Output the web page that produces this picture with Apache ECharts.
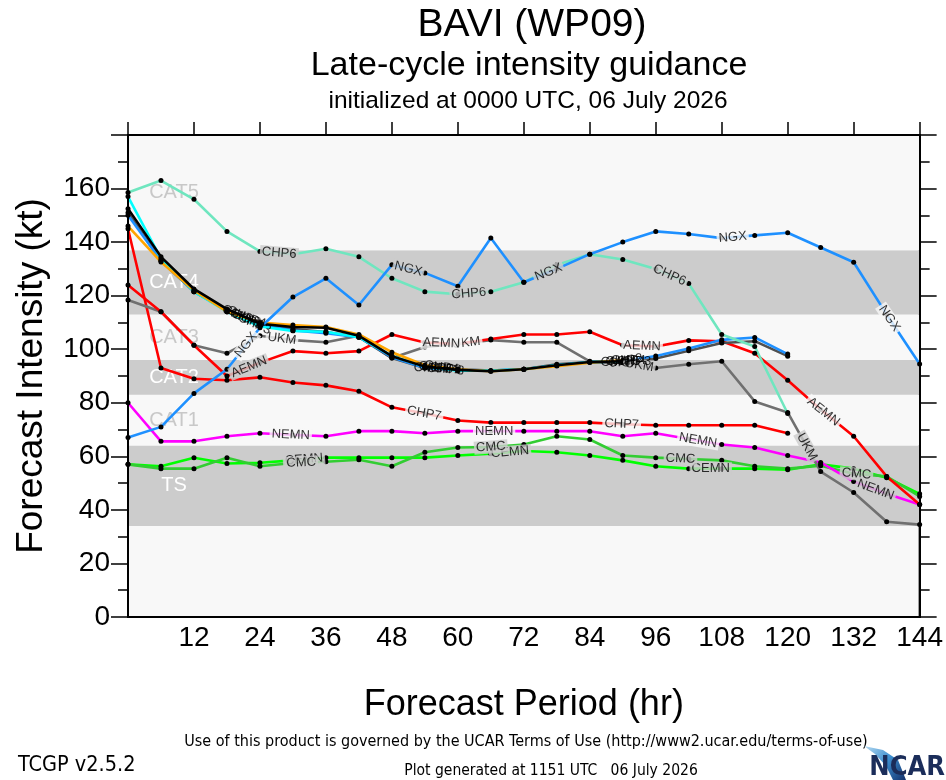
<!DOCTYPE html>
<html>
<head>
<meta charset="utf-8">
<title>BAVI (WP09) Late-cycle intensity guidance</title>
<script src="https://cdn.jsdelivr.net/npm/echarts@6/dist/echarts.min.js"></script>
<style>
    html, body { margin: 0; padding: 0; background: #fff; }
    #intensity_chart { width: 946px; height: 780px; }
</style>
</head>
<body>
<div id="intensity_chart"></div>
<script>
// forecast hours
var hours = [0, 6, 12, 18, 24, 30, 36, 42, 48, 54, 60, 66, 72, 78, 84, 90, 96, 102, 108, 114, 120, 126, 132, 138, 144];

// intensity (kt) per model
var ngx  = [67, 71, 83.5, 92.5, 108, 119.5, 126.5, 116.5, 131.5, 128.5, 123.5, 141.5, 125, 130, 135.5, 140, 144, 143, 141.5, 142.5, 143.5, 138, 132.5, 113, 94.5];
var chp6 = [158.5, 163, 156, 144, 136.5, 135.5, 137.5, 134.5, 126.5, 121.5, 120.5, 121.5, 125, 131.5, 135.5, 133.5, 130, 124.5, 105.5, 101, 76, null, null, null, null];
var aemn = [124, 114, 101.5, 90, 95, 99.3, 98.5, 99.3, 105.5, 102.5, 102, 103.8, 105.5, 105.5, 106.5, 101.5, 101, 103.3, 103, 98.5, 88.4, 77.5, 67.5, 52.5, 42];
var chp7 = [145, 93, 89, 88.4, 89.5, 87.6, 86.5, 84.3, 78.3, 76, 73.4, 72.6, 72.6, 72.6, 72.6, 72, 71.6, 71.6, 71.6, 71.6, 68.6, null, null, null, null];
var ukm  = [118.4, 114, 101.5, 98.5, 105, 103.4, 102.6, 105, 96.7, 100.8, 102, 103.4, 102.6, 102.6, 95.5, 95, 93, 94.4, 95.5, 80.5, 76.4, 54.3, 46.5, 35.6, 34.5];
var nemn = [80, 65.6, 65.6, 67.5, 68.6, 68, 67.5, 69.4, 69.4, 68.6, 69.4, 69.4, 69.4, 69.4, 69.4, 67.5, 68.6, 66.5, 64.4, 63.3, 60.3, 57.7, 50.6, 46, 42];
var cmc  = [57, 55.4, 55.4, 59.5, 56.3, 57.5, 58, 58.7, 56.3, 61.5, 63.3, 63.5, 64.4, 67.5, 66.3, 60.3, 59.5, 59, 58.5, 56.3, 55.4, 56.5, 53.5, 52.5, 45];
var cemn = [57, 56.3, 59.5, 57.3, 57.6, 58.5, 59.5, 59.5, 59.5, 59.5, 60.3, 61, 62, 61.5, 60.3, 58.5, 56.3, 55.4, 55.4, 55.4, 55, 57, 55.4, 52, 46];
var chp5 = [152.5, 134.5, 122.5, 115, 109.5, 108.3, 108, 105, 97.4, 93.5, 92.3, 91.8, 92.5, 94, 95.2, 95.5, null, null, null, null, null, null, null, null, null];
var chp4 = [146, 132.6, 122, 114, 110, 109, 108.3, 105.5, 98.9, 94, 92.5, 91.8, 92.5, 93.7, 95, 95.9, null, null, null, null, null, null, null, null, null];
var chp3 = [157, 133.8, 121.5, 114, 108.5, 106.8, 106.5, 104.5, 97.5, 93.5, 92, 92, 92.5, 94, 95.2, 95.5, null, null, null, null, null, null, null, null, null];
var cmci = [151, 133, 121.5, 114.5, 109, 107.5, 106.4, 104.5, 96.7, 93, 92.5, 92, 92.5, 94.4, 95.2, 95, 96.5, 99.4, 102.3, 103, 97.4, null, null, null, null];
var chp2 = [150, 133, 121.5, 114.5, 109, 107, 106, 104.5, 97, 93, 92.3, 92, 92.5, 94, 95.2, 95.5, 97.5, 100.3, 103.5, 104.4, 98.2, null, null, null, null];

// Saffir-Simpson bands (kt)
var bandNames = ['TS', 'CAT1', 'CAT2', 'CAT3', 'CAT4', 'CAT5'];
var bandEdges = [34, 64, 83, 96, 113, 137, 180];

var yTicks = [0, 20, 40, 60, 80, 100, 120, 140, 160];

var FONT = '"Liberation Sans", Helvetica, Arial, sans-serif';
var NARROW = '"Liberation Sans Narrow", "DejaVu Sans Condensed", "Liberation Sans", sans-serif';

var DARK = '#cccccc', LIGHT = '#f8f8f8';

// plot box in pixels, used for label rotation
var GRID = {left: 128, right: 24, top: 135, bottom: 163};
var HR_PX = (946 - GRID.left - GRID.right) / 144;
var KT_PX = (780 - GRID.top - GRID.bottom) / 180;

// drawing order: bottom first; gap = blank the line under its name
var models = [
    {name: 'CEMN', data: cemn, color: '#00ff00', gap: true,  labels: [32, 69.5, 106]},
    {name: 'CMC',  data: cmc,  color: '#32cd32', gap: true,  labels: [31.5, 66, 100.5, 132.5]},
    {name: 'NEMN', data: nemn, color: '#ff00ff', gap: true,  labels: [29.6, 66.6, 103.7, 136]},
    {name: 'CHP7', data: chp7, color: '#ff0000', gap: true,  labels: [53.9, 89.8]},
    {name: 'UKM',  data: ukm,  color: '#707070', gap: true,  labels: [28, 61.5, 93, 123.5]},
    {name: 'AEMN', data: aemn, color: '#ff0000', gap: true,  labels: [22, 57, 93.5, 126.5]},
    {name: 'CMCI', data: cmci, color: '#505050', gap: false, labels: [20, 55, 89]},
    {name: 'CHP2', data: chp2, color: '#1e90ff', gap: false, labels: [21.5, 57.5, 90.5]},
    {name: 'CHP3', data: chp3, color: '#00ffff', gap: false, labels: [23, 58, 92]},
    {name: 'CHP4', data: chp4, color: '#ffa500', gap: false, labels: [22, 57, 91]},
    {name: 'CHP5', data: chp5, color: '#000000', gap: false, labels: [21, 56, 90]},
    {name: 'CHP6', data: chp6, color: '#6fe6bf', gap: true,  labels: [27.5, 62, 98.5]},
    {name: 'NGX',  data: ngx,  color: '#1e90ff', gap: true,  labels: [21.5, 51, 76.5, 110, 138.5]}
];

function pairs(data) {
    return hours.map(function(h, i){ return [h, data[i]]; });
}

function bandColour(v) {
    for (var i = 0; i < bandNames.length; i++) {
        if (v >= bandEdges[i] && v < bandEdges[i + 1]) {
            return (i % 2 === 0) ? DARK : LIGHT;
        }
    }
    return LIGHT;
}

// model name written along its own line, NCL style
function labelPoints(data, hrs, gap) {
    return hrs.map(function(h){
        var i = Math.min(Math.floor(h / 6), hours.length - 2);
        var a = data[i], b = data[i + 1];
        if (b == null) { b = a; }
        var dh = hours[i + 1] - hours[i];
        var v = a + (b - a) * (h - hours[i]) / dh;
        var ang = Math.atan((b - a) / dh * KT_PX / HR_PX) * 180 / Math.PI;
        var lab = {rotate: ang};
        if (gap) {
            lab.backgroundColor = bandColour(v);
            lab.padding = [0, 2];
        }
        return {value: [h, v], label: lab};
    });
}

var bandAreas = bandNames.map(function(name, i){
    var dark = (i % 2 === 0);
    return [{
        name: name,
        yAxis: bandEdges[i],
        itemStyle: {color: dark ? DARK : LIGHT},
        label: {color: dark ? '#ffffff' : '#c8c8c8'}
    }, {
        yAxis: bandEdges[i + 1]
    }];
});

var series = [{
    type: 'line',
    data: [],
    z: 1,
    silent: true,
    markArea: {
        silent: true,
        label: {
            show: true,
            position: [46, '50%'],
            align: 'center',
            verticalAlign: 'middle',
            fontSize: 20,
            fontFamily: FONT
        },
        data: bandAreas
    }
}];

models.forEach(function(m){
    series.push({
        name: m.name,
        type: 'line',
        data: pairs(m.data),
        z: 3,
        symbol: 'circle',
        symbolSize: 5,
        itemStyle: {color: '#000'},
        lineStyle: {color: m.color, width: 2.6},
        connectNulls: false,
        silent: true,
        animation: false
    });
});

models.forEach(function(m){
    series.push({
        name: m.name + ' label',
        type: 'scatter',
        data: labelPoints(m.data, m.labels, m.gap),
        z: 5,
        symbolSize: 1,
        itemStyle: {color: 'transparent'},
        label: {
            show: true,
            position: 'inside',
            formatter: m.name,
            color: '#000',
            fontSize: 13,
            fontFamily: FONT
        },
        silent: true,
        animation: false
    });
});

var chart = echarts.init(document.getElementById('intensity_chart'));

var tickLine = {color: '#000', width: 1.5};
var frameLine = {show: true, onZero: false, lineStyle: {color: '#000', width: 2}};

var option = {
    animation: false,
    backgroundColor: '#ffffff',
    textStyle: {fontFamily: FONT, color: '#000'},
    title: [
        {text: 'BAVI (WP09)', left: 527, top: 1, textAlign: 'center',
         textStyle: {fontSize: 39, fontWeight: 'normal', color: '#000', fontFamily: FONT}},
        {text: 'Late-cycle intensity guidance', left: 524, top: 44, textAlign: 'center',
         textStyle: {fontSize: 34, fontWeight: 'normal', color: '#000', fontFamily: FONT}},
        {text: 'initialized at 0000 UTC, 06 July 2026', left: 523, top: 84, textAlign: 'center',
         textStyle: {fontSize: 24.5, fontWeight: 'normal', color: '#000', fontFamily: FONT}}
    ],
    grid: {
        left: GRID.left, right: GRID.right, top: GRID.top, bottom: GRID.bottom,
        show: true, backgroundColor: LIGHT, borderColor: '#000', borderWidth: 2
    },
    xAxis: [{
        type: 'value', min: 0, max: 144, interval: 12, position: 'bottom', z: 6,
        name: 'Forecast Period (hr)', nameLocation: 'middle', nameGap: 70,
        nameTextStyle: {fontSize: 36, color: '#000', fontFamily: FONT},
        axisLine: frameLine,
        axisTick: {show: false},
        splitLine: {show: false},
        axisLabel: {fontSize: 28, color: '#000', margin: 7, fontFamily: FONT,
                    formatter: function(v){ return v === 0 ? '' : v; }}
    }, {
        type: 'value', min: 0, max: 144, interval: 12, position: 'top', z: 6,
        axisLine: frameLine,
        axisTick: {show: true, inside: false, length: 13, lineStyle: tickLine},
        axisLabel: {show: false},
        splitLine: {show: false}
    }],
    yAxis: [{
        type: 'value', min: 0, max: 180, interval: 20, position: 'left', z: 6,
        name: 'Forecast Intensity (kt)', nameLocation: 'middle', nameGap: 78,
        nameTextStyle: {fontSize: 37, color: '#000', fontFamily: FONT},
        axisLine: frameLine,
        axisTick: {show: true, inside: false, length: 17, lineStyle: tickLine},
        minorTick: {show: true, splitNumber: 2, length: 10, lineStyle: tickLine},
        splitLine: {show: false},
        minorSplitLine: {show: false},
        axisLabel: {fontSize: 28, color: '#000', margin: 18, fontFamily: FONT,
                    formatter: function(v){ return yTicks.indexOf(v) >= 0 ? v : ''; }}
    }, {
        type: 'value', min: 0, max: 180, interval: 20, position: 'right', z: 6,
        axisLine: frameLine,
        axisTick: {show: true, inside: false, length: 17, lineStyle: tickLine},
        minorTick: {show: true, splitNumber: 2, length: 10, lineStyle: tickLine},
        splitLine: {show: false},
        axisLabel: {show: false}
    }],
    graphic: [
        {type: 'text', x: 526, y: 742, silent: true,
         style: {text: 'Use of this product is governed by the UCAR Terms of Use (http://www2.ucar.edu/terms-of-use)',
                 font: '16px ' + NARROW, fill: '#000', textAlign: 'center', textVerticalAlign: 'middle'}},
        {type: 'text', x: 18, y: 765, silent: true,
         style: {text: 'TCGP v2.5.2', font: '21.5px ' + NARROW, fill: '#000',
                 textAlign: 'left', textVerticalAlign: 'middle'}},
        {type: 'text', x: 551, y: 771, silent: true,
         style: {text: 'Plot generated at 1151 UTC   06 July 2026', font: '15.5px ' + NARROW, fill: '#000',
                 textAlign: 'center', textVerticalAlign: 'middle'}},
        {type: 'polygon', silent: true,
         shape: {points: [[864, 746], [883, 750], [898, 760], [906, 780], [893, 780], [886, 766], [875, 754]]},
         style: {fill: new echarts.graphic.LinearGradient(0, 0, 1, 1, [
             {offset: 0, color: '#b8dcf2'}, {offset: 0.5, color: '#3d8fd0'}, {offset: 1, color: '#12306b'}])}},
        {type: 'text', x: 945, y: 768, silent: true,
         style: {text: 'NCAR', font: 'bold 27px ' + NARROW, fill: '#1b2d5a',
                 textAlign: 'right', textVerticalAlign: 'middle'}}
    ],
    series: series
};

chart.setOption(option);

window.addEventListener('resize', function(){
    if (chart != null && chart != undefined) {
        chart.resize();
    }
});
</script>
</body>
</html>
